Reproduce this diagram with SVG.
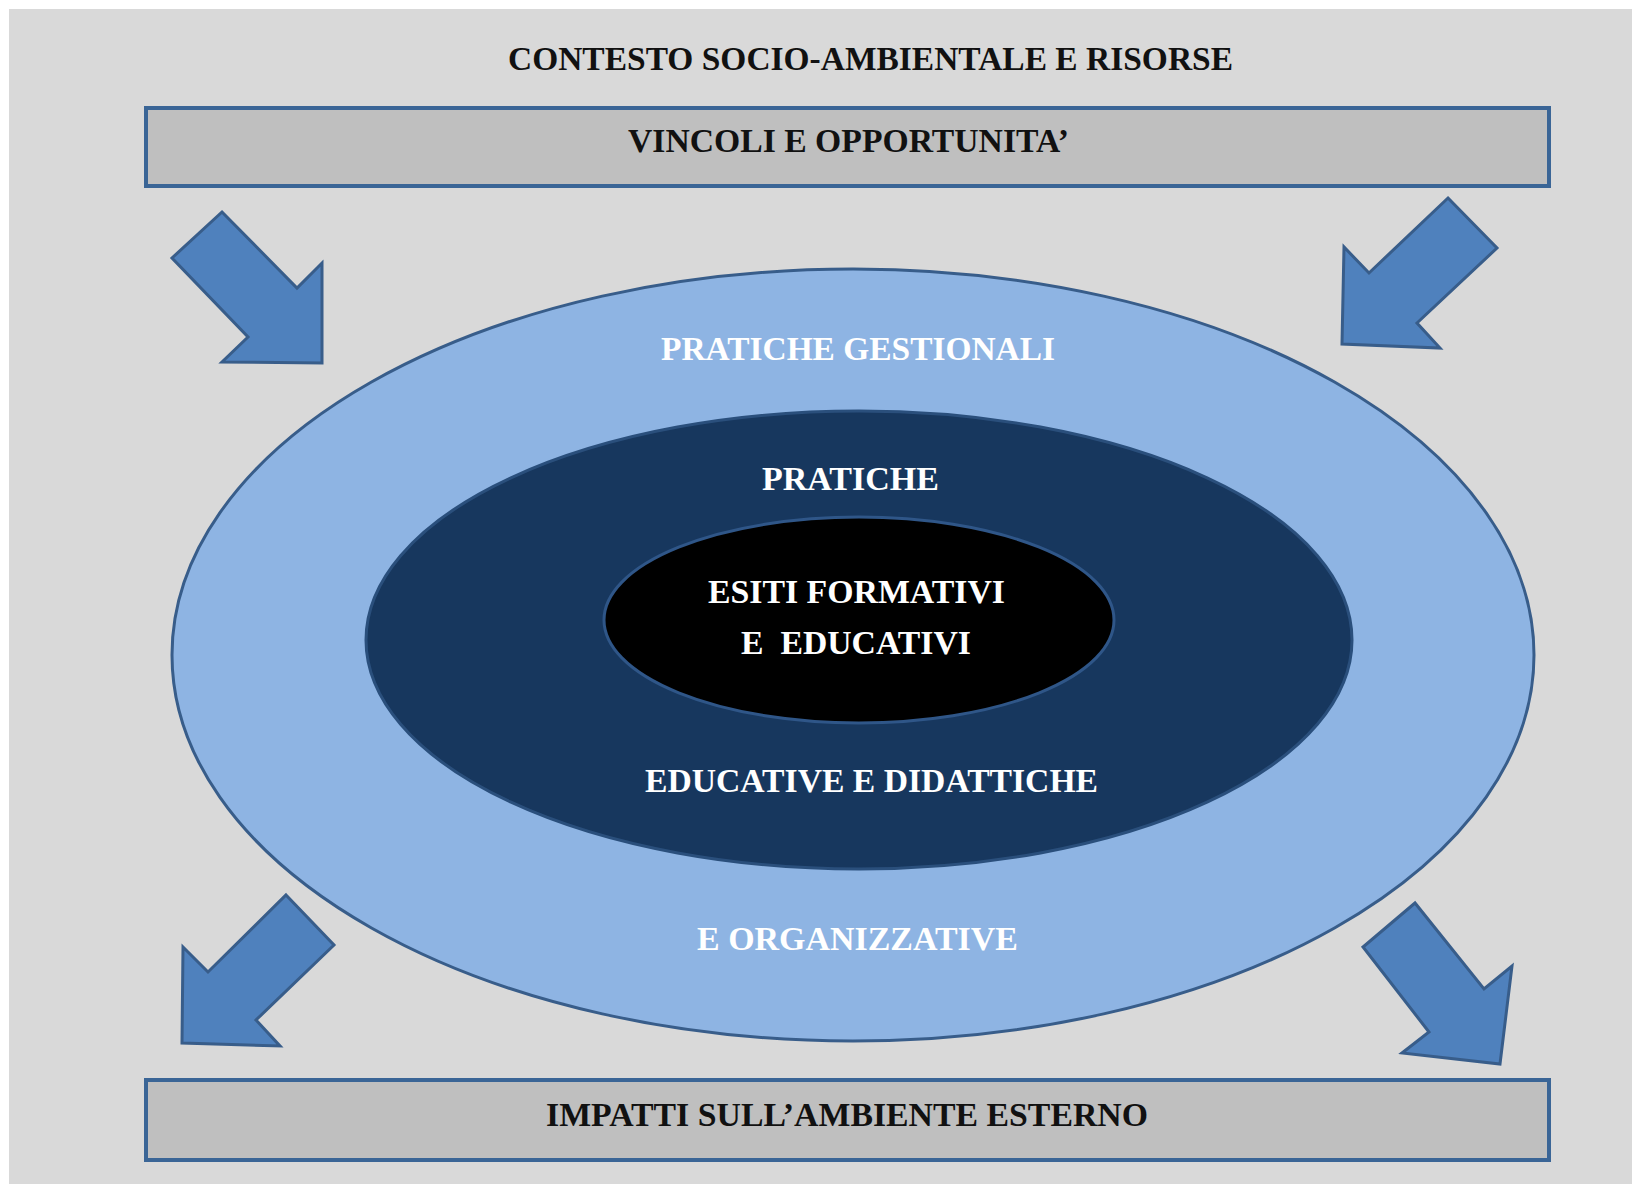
<svg xmlns="http://www.w3.org/2000/svg" width="1632" height="1184" viewBox="0 0 1632 1184">
<style>
.t{font-family:"Liberation Serif","Times New Roman",serif;font-weight:bold;font-size:33px;text-anchor:start}
.dk{fill:#111}
.wh{fill:#ffffff}
.box{fill:#bfbfbf;stroke:#3a6596;stroke-width:4}
.arr{fill:#4f81bd;stroke:#385d8a;stroke-width:3;stroke-linejoin:miter}
</style>
<rect x="0" y="0" width="1632" height="1184" fill="#ffffff"/>
<rect x="9" y="9" width="1623" height="1175" fill="#d9d9d9"/>
<g id="title">
<text class="t dk" x="508" y="70" textLength="725" lengthAdjust="spacingAndGlyphs">CONTESTO SOCIO-AMBIENTALE E RISORSE</text>
</g>
<g id="vincoli">
<rect class="box" x="146" y="108" width="1403" height="78"/>
<text class="t dk" x="628" y="152" textLength="441" lengthAdjust="spacingAndGlyphs">VINCOLI E OPPORTUNITA’</text>
</g>
<g id="impatti">
<rect class="box" x="146" y="1080" width="1403" height="80"/>
<text class="t dk" x="546" y="1126" textLength="602" lengthAdjust="spacingAndGlyphs">IMPATTI SULL’AMBIENTE ESTERNO</text>
</g>
<g id="connectors">
<polygon class="arr" points="222,212 297,288 322,263 322,363 222,362 248,337 172,258"/>
<polygon class="arr" points="1448,198 1497,248 1417,323 1440,348 1342,344 1344,247 1369,273"/>
<polygon class="arr" points="286,895 334,945 256,1020 280,1046 182,1043 183,947 208,972"/>
<polygon class="arr" points="1415,903 1363,947 1429,1032 1402,1053 1500,1064 1512,966 1484,989"/>
</g>
<g id="pratiche-gestionali">
<ellipse cx="853" cy="655" rx="681" ry="386" fill="#8eb4e3" stroke="#385d8a" stroke-width="3"/>
<text class="t wh" x="661" y="360" textLength="394" lengthAdjust="spacingAndGlyphs">PRATICHE GESTIONALI</text>
<text class="t wh" x="697" y="950" textLength="321" lengthAdjust="spacingAndGlyphs">E ORGANIZZATIVE</text>
</g>
<g id="pratiche-educative">
<ellipse cx="859" cy="640" rx="493" ry="229" fill="#17375e" stroke="#2a4f7c" stroke-width="3"/>
<text class="t wh" x="762" y="490" textLength="177" lengthAdjust="spacingAndGlyphs">PRATICHE</text>
<text class="t wh" x="645" y="792" textLength="453" lengthAdjust="spacingAndGlyphs">EDUCATIVE E DIDATTICHE</text>
</g>
<g id="esiti">
<ellipse cx="859" cy="620" rx="255" ry="103" fill="#000000" stroke="#2f5688" stroke-width="3"/>
<text class="t wh" x="708" y="603" textLength="297" lengthAdjust="spacingAndGlyphs">ESITI FORMATIVI</text>
<text class="t wh" x="741" y="654" textLength="230" lengthAdjust="spacingAndGlyphs" xml:space="preserve">E  EDUCATIVI</text>
</g>
</svg>
